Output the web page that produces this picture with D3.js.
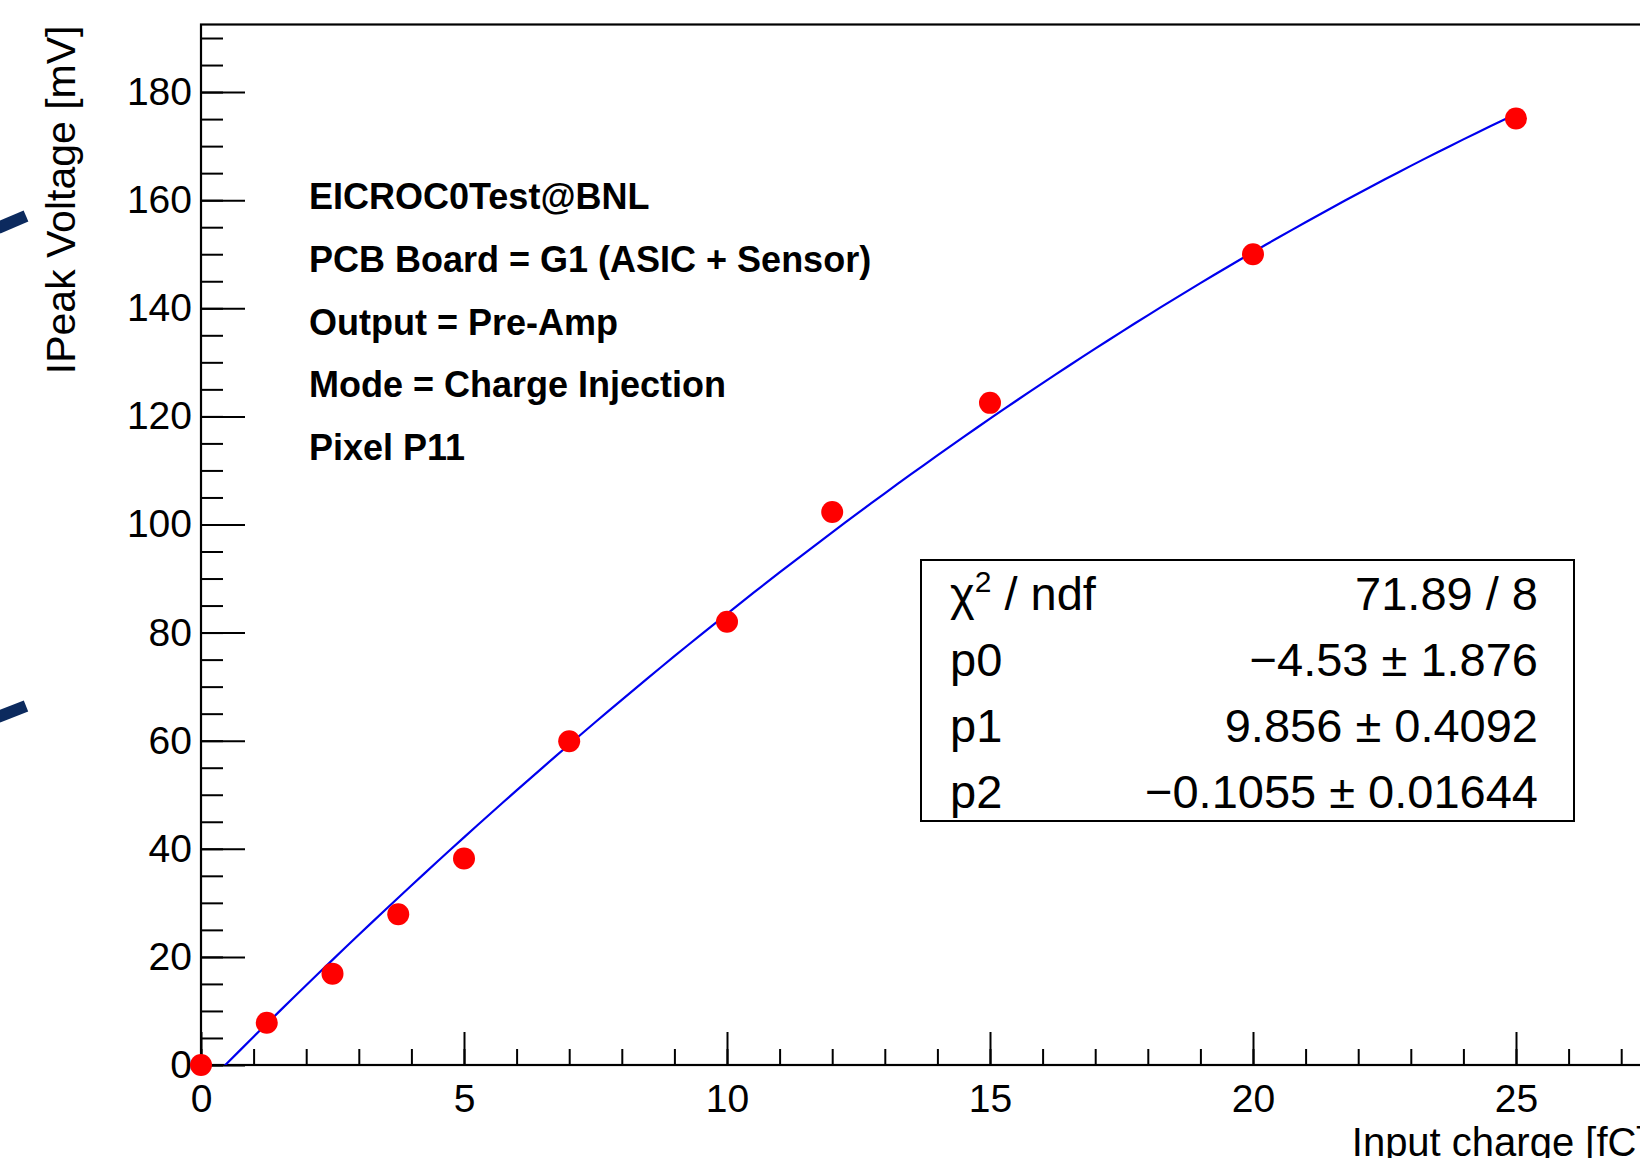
<!DOCTYPE html>
<html>
<head>
<meta charset="utf-8">
<script src="https://cdn.jsdelivr.net/npm/d3@7"></script>
<style>
  html, body { margin: 0; padding: 0; background: #fff; }
  svg { display: block; font-family: "Liberation Sans", Arial, Helvetica, sans-serif; }
</style>
</head>
<body>
<div id="chart"></div>
<script>
// data
const charges = [0, 1.25, 2.5, 3.75, 5, 7, 10, 12, 15, 20, 25];
const peakVoltages = [0, 7.8, 16.9, 27.9, 38.2, 59.9, 82.0, 102.3, 122.5, 150.0, 175.1];
const fitParams = [-4.53, 9.856, -0.1055]; // pol2 fit, p0 p1 p2
const fitRange = [0, 25];

const xTicks = [0, 5, 10, 15, 20, 25];
const xMinorTicks = d3.range(0, 28, 1);
const yTicks = [0, 20, 40, 60, 80, 100, 120, 140, 160, 180];
const yMinorTicks = d3.range(0, 195, 5);

const infoLines = [
  "EICROC0Test@BNL",
  "PCB Board = G1 (ASIC + Sensor)",
  "Output = Pre-Amp",
  "Mode = Charge Injection",
  "Pixel P11"
];
const statLabels = ["χ", "p0", "p1", "p2"];
const statValues = ["71.89 / 8", "\u22124.53 \u00b1 1.876", "9.856 \u00b1 0.4092", "\u22120.1055 \u00b1 0.01644"];

const W = 1640, H = 1158;
const svg = d3.select("#chart").append("svg").attr("width", W).attr("height", H);

// scales
const x = d3.scaleLinear().domain([0, 27.5]).range([201, 1647.5]);
const y = d3.scaleLinear().domain([0, 192.5]).range([1065, 24.5]);

// left edge decoration (bits of the slide behind the plot)
svg.append("line").attr("x1", -2).attr("y1", 228).attr("x2", 26).attr("y2", 216)
  .attr("stroke", "#0c2a5e").attr("stroke-width", 12);
svg.append("line").attr("x1", -2).attr("y1", 717).attr("x2", 26).attr("y2", 706)
  .attr("stroke", "#0c2a5e").attr("stroke-width", 12);

// clip to the frame
svg.append("clipPath").attr("id", "frame")
  .append("rect")
  .attr("x", x.range()[0]).attr("y", y.range()[1])
  .attr("width", x.range()[1] - x.range()[0]).attr("height", y.range()[0] - y.range()[1]);

// axes
const fontAxis = 39;
const xMinor = svg.append("g").attr("transform", `translate(0,${y(0)})`)
  .call(d3.axisBottom(x).tickValues(xMinorTicks).tickSizeInner(-16).tickSizeOuter(0).tickFormat(""));
const xMajor = svg.append("g").attr("transform", `translate(0,${y(0)})`)
  .call(d3.axisBottom(x).tickValues(xTicks).tickSizeInner(-33).tickSizeOuter(0).tickPadding(19).tickFormat(d3.format("d")));
const yMinor = svg.append("g").attr("transform", `translate(${x(0)},0)`)
  .call(d3.axisLeft(y).tickValues(yMinorTicks).tickSizeInner(-22).tickSizeOuter(0).tickFormat(""));
const yMajor = svg.append("g").attr("transform", `translate(${x(0)},0)`)
  .call(d3.axisLeft(y).tickValues(yTicks).tickSizeInner(-44).tickSizeOuter(0).tickPadding(9).tickFormat(d3.format("d")));

[xMinor, xMajor, yMinor, yMajor].forEach(g => {
  g.select(".domain").remove();
  g.selectAll("line").attr("stroke", "#000").attr("stroke-width", 2);
  g.selectAll("text").attr("fill", "#000").style("font-size", fontAxis + "px")
    .style("font-family", "'Liberation Sans', Arial, Helvetica, sans-serif");
});

// frame
svg.append("rect")
  .attr("x", x.range()[0]).attr("y", y.range()[1])
  .attr("width", x.range()[1] - x.range()[0]).attr("height", y.range()[0] - y.range()[1])
  .attr("fill", "none").attr("stroke", "#000").attr("stroke-width", 2.2);

// axis titles
svg.append("text")
  .attr("transform", `translate(75,${y.range()[1] + 1}) rotate(-90)`)
  .attr("text-anchor", "end")
  .style("font-size", "41px")
  .text("IPeak Voltage [mV]");
svg.append("text")
  .attr("x", x.range()[1]).attr("y", 1156)
  .attr("text-anchor", "end")
  .style("font-size", "40px")
  .text("Input charge [fC]");

// fit curve
const fitX = d3.range(fitRange[0], fitRange[1] + 0.001, 0.25);
const fitLine = d3.line()
  .x(d => x(d))
  .y(d => y(fitParams[0] + fitParams[1] * d + fitParams[2] * d * d));
svg.append("path")
  .datum(fitX)
  .attr("clip-path", "url(#frame)")
  .attr("d", fitLine)
  .attr("fill", "none")
  .attr("stroke", "#0000ee")
  .attr("stroke-width", 2.2);

// data points
svg.selectAll(".pt")
  .data(charges)
  .enter()
  .append("circle")
  .attr("class", "pt")
  .attr("cx", d => x(d))
  .attr("cy", (d, i) => y(peakVoltages[i]))
  .attr("r", 11)
  .attr("fill", "#ff0000");

// info text
svg.append("g").selectAll("text")
  .data(infoLines)
  .enter()
  .append("text")
  .attr("x", 309)
  .attr("y", (d, i) => 209 + i * 62.8)
  .style("font-size", "36px")
  .style("font-weight", "bold")
  .text(d => d);

// stats box
const box = svg.append("g");
box.append("rect")
  .attr("x", 921).attr("y", 560).attr("width", 653).attr("height", 261)
  .attr("fill", "#fff").attr("stroke", "#000").attr("stroke-width", 2);
const rowY = i => 610 + i * 66;
const labels = box.selectAll(".lab")
  .data(statLabels)
  .enter()
  .append("text")
  .attr("class", "lab")
  .attr("x", 950)
  .attr("y", (d, i) => rowY(i))
  .style("font-size", "47px");
labels.each(function (d, i) {
  const t = d3.select(this);
  if (i === 0) {
    t.append("tspan").text("χ");
    t.append("tspan").attr("dy", -18).style("font-size", "30px").text("2");
    t.append("tspan").attr("dy", 18).text(" / ndf");
  } else {
    t.text(d);
  }
});
box.selectAll(".val")
  .data(statValues)
  .enter()
  .append("text")
  .attr("class", "val")
  .attr("x", 1538)
  .attr("y", (d, i) => rowY(i))
  .attr("text-anchor", "end")
  .style("font-size", "47px")
  .text(d => d);
</script>
</body>
</html>
